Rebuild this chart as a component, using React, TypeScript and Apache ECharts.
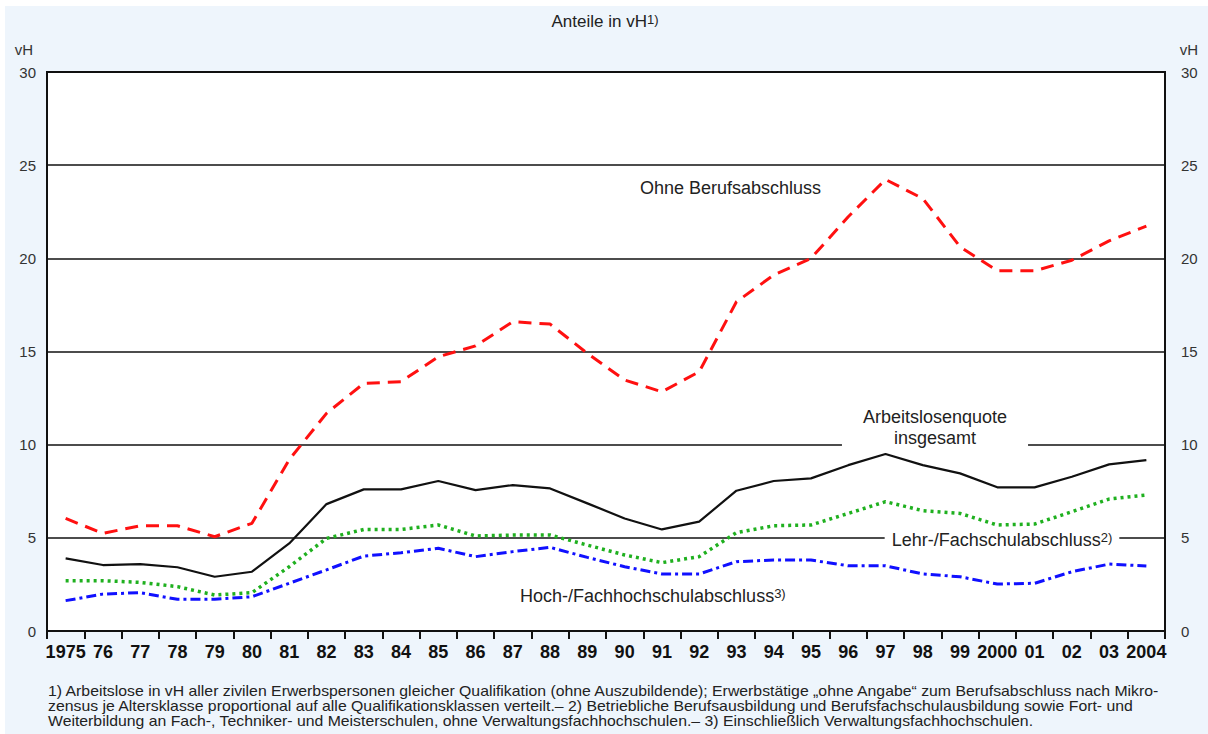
import React, { useEffect, useRef } from "react";
import * as echarts from "echarts";

const years = ["1975","76","77","78","79","80","81","82","83","84","85","86","87","88","89","90","91","92","93","94","95","96","97","98","99","2000","01","02","03","2004"];
const ohneBerufsabschluss = [6.04,5.24,5.65,5.65,5.06,5.78,9.2,11.68,13.29,13.38,14.72,15.3,16.6,16.47,14.9,13.47,12.84,13.91,17.67,19.1,20.0,22.23,24.23,23.21,20.62,19.33,19.33,19.9,20.94,21.73];
const insgesamt = [3.9,3.54,3.59,3.42,2.91,3.18,4.7,6.81,7.6,7.6,8.05,7.56,7.83,7.65,6.85,6.04,5.45,5.87,7.53,8.05,8.19,8.9,9.5,8.9,8.46,7.71,7.71,8.28,8.94,9.17];
const lehrFachschul = [2.7,2.7,2.61,2.38,1.93,2.06,3.45,4.97,5.45,5.45,5.69,5.1,5.15,5.15,4.61,4.08,3.67,3.99,5.28,5.65,5.69,6.31,6.94,6.46,6.31,5.69,5.74,6.4,7.08,7.3];
const hochFachhochschul = [1.63,1.98,2.06,1.7,1.7,1.84,2.56,3.28,4.02,4.2,4.44,3.99,4.26,4.49,3.95,3.45,3.06,3.06,3.72,3.81,3.81,3.5,3.5,3.06,2.91,2.52,2.56,3.18,3.59,3.49];

const footnotes = [
  "1) Arbeitslose in vH aller zivilen Erwerbspersonen gleicher Qualifikation (ohne Auszubildende); Erwerbstätige „ohne Angabe“ zum Berufsabschluss nach Mikro-",
  "zensus je Altersklasse proportional auf alle Qualifikationsklassen verteilt.– 2) Betriebliche Berufsausbildung und Berufsfachschulausbildung sowie Fort- und",
  "Weiterbildung an Fach-, Techniker- und Meisterschulen, ohne Verwaltungsfachhochschulen.– 3) Einschließlich Verwaltungsfachhochschulen.",
];

const FONT = "'Liberation Sans', Arial, sans-serif";
const TXT = "#222";

const sup = { fontSize: 13, fontFamily: FONT, fill: TXT, verticalAlign: "top" as const };

export default function App() {
  const ref = useRef<HTMLDivElement>(null);
  useEffect(() => {
    if (!ref.current) return;
    const chart = echarts.init(ref.current, null, { renderer: "svg" });
    const yAxisBase = {
      type: "value" as const,
      min: 0,
      max: 30,
      interval: 5,
      axisTick: { show: false },
      axisLine: { show: false },
    };
    chart.setOption({
      animation: false,
      backgroundColor: "#eef5fc",
      grid: {
        left: 47,
        right: 43,
        top: 72,
        bottom: 103,
        show: true,
        backgroundColor: "#ffffff",
        borderColor: "#111",
        borderWidth: 2,
      },
      xAxis: {
        type: "category",
        data: years,
        boundaryGap: true,
        axisLine: { show: true, lineStyle: { color: "#111", width: 2 } },
        axisTick: { show: true, interval: 0, length: 8, lineStyle: { color: "#111", width: 2 } },
        axisLabel: { interval: 0, margin: 12, fontSize: 18, fontWeight: "bold", color: "#111", fontFamily: FONT },
        splitLine: { show: false },
      },
      yAxis: [
        {
          ...yAxisBase,
          position: "left",
          axisLabel: { margin: 11, fontSize: 15, color: "#333", fontFamily: FONT },
          splitLine: { show: true, lineStyle: { color: "#111", width: 1.6 } },
        },
        {
          ...yAxisBase,
          position: "right",
          axisLabel: { margin: 16, fontSize: 15, color: "#333", fontFamily: FONT },
          splitLine: { show: false },
        },
      ],
      series: [
        {
          name: "Ohne Berufsabschluss",
          type: "line",
          data: ohneBerufsabschluss,
          symbol: "none",
          lineStyle: { color: "#ff1010", width: 3, type: [13, 8] },
          z: 3,
        },
        {
          name: "Lehr-/Fachschulabschluss",
          type: "line",
          data: lehrFachschul,
          symbol: "none",
          lineStyle: { color: "#1fb01f", width: 3.5, type: [3, 4] },
          z: 3,
        },
        {
          name: "Hoch-/Fachhochschulabschluss",
          type: "line",
          data: hochFachhochschul,
          symbol: "none",
          lineStyle: { color: "#1010ff", width: 3, type: [10, 4, 3, 4] },
          z: 3,
        },
        {
          name: "Arbeitslosenquote insgesamt",
          type: "line",
          data: insgesamt,
          symbol: "none",
          lineStyle: { color: "#111", width: 2.2, type: "solid" },
          z: 4,
        },
      ],
      graphic: [
        { type: "rect", shape: { x: 0, y: 0, width: 1208, height: 6 }, style: { fill: "#fff" }, z: 0 },
        { type: "rect", shape: { x: 0, y: 0, width: 5, height: 734 }, style: { fill: "#fff" }, z: 0 },
        {
          type: "text", x: 605, y: 21, z: 5,
          style: {
            text: "Anteile in vH{sup|1)}", rich: { sup },
            fontSize: 17, fontFamily: FONT, fill: TXT, align: "center", verticalAlign: "middle",
          },
        },
        { type: "text", x: 24, y: 49, z: 5, style: { text: "vH", fontSize: 15, fontFamily: FONT, fill: "#333", align: "center", verticalAlign: "middle" } },
        { type: "text", x: 1189, y: 49, z: 5, style: { text: "vH", fontSize: 15, fontFamily: FONT, fill: "#333", align: "center", verticalAlign: "middle" } },
        {
          type: "text", x: 640, y: 188, z: 5,
          style: { text: "Ohne Berufsabschluss", fontSize: 18, fontFamily: FONT, fill: TXT, align: "left", verticalAlign: "middle" },
        },
        {
          type: "text", x: 935, y: 427, z: 1,
          style: {
            text: "Arbeitslosenquote\ninsgesamt", fontSize: 18, lineHeight: 21, fontFamily: FONT, fill: TXT,
            align: "center", verticalAlign: "middle", backgroundColor: "#fff", padding: [2, 21, 2, 21],
          },
        },
        {
          type: "text", x: 1002, y: 540, z: 1,
          style: {
            text: "Lehr-/Fachschulabschluss{sup|2)}", rich: { sup }, fontSize: 18, fontFamily: FONT, fill: TXT,
            align: "center", verticalAlign: "middle", backgroundColor: "#fff", padding: [1, 7, 1, 7],
          },
        },
        {
          type: "text", x: 520, y: 596, z: 5,
          style: {
            text: "Hoch-/Fachhochschulabschluss{sup|3)}", rich: { sup }, fontSize: 18, fontFamily: FONT, fill: TXT,
            align: "left", verticalAlign: "middle",
          },
        },
        ...footnotes.map((t, i) => ({
          type: "text", x: 48, y: 691 + i * 15, z: 5, scaleX: 1.13,
          style: { text: t, fontSize: 14, fontFamily: FONT, fill: TXT, align: "left", verticalAlign: "middle" },
        })),
      ],
    });
    return () => chart.dispose();
  }, []);
  return <div ref={ref} style={{ position: "fixed", left: 0, top: 0, width: 1208, height: 734 }} />;
}
